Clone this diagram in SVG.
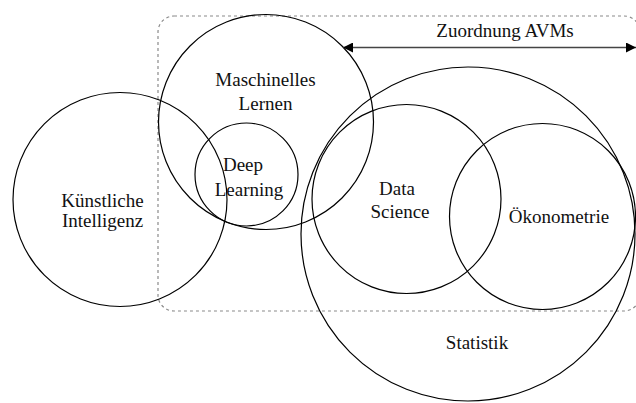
<svg xmlns="http://www.w3.org/2000/svg" width="636" height="403" viewBox="0 0 636 403">
  <style>
    .set { fill: none; stroke: #000; stroke-width: 1.2; }
    .lbl { font-size: 19px; fill: #111; text-anchor: middle; }
    .frame { fill: none; stroke: #8a8a8a; stroke-width: 1.2; stroke-dasharray: 3 3; }
    .dim { stroke: #444; stroke-width: 1.5; fill: none; }
  </style>
  <defs>
    <marker id="head" viewBox="0 0 10 10" refX="10" refY="5" markerWidth="10" markerHeight="10" markerUnits="userSpaceOnUse" orient="auto-start-reverse">
      <path d="M0,0 L10,5 L0,10 z" fill="#000"/>
    </marker>
  </defs>
  <rect width="636" height="403" fill="#fff"/>

  <!-- dashed scope frame -->
  <rect class="frame" x="158" y="16" width="482" height="295" rx="16" ry="16"/>

  <g font-family="'Liberation Serif', 'Times New Roman', serif">
    <g id="statistik">
      <circle class="set" cx="468" cy="234" r="167"/>
      <text class="lbl" x="477" y="349">Statistik</text>
    </g>
    <g id="ki">
      <circle class="set" cx="120" cy="199.5" r="107"/>
      <text class="lbl" x="102.5" y="207">Künstliche</text>
      <text class="lbl" x="102.5" y="226.5">Intelligenz</text>
    </g>
    <g id="ml">
      <circle class="set" cx="266" cy="122" r="107.5"/>
      <text class="lbl" x="265.5" y="86">Maschinelles</text>
      <text class="lbl" x="265.5" y="110">Lernen</text>
    </g>
    <g id="dl">
      <circle class="set" cx="246.5" cy="174.5" r="51.5"/>
      <text class="lbl" x="243" y="171">Deep</text>
      <text class="lbl" x="249" y="196">Learning</text>
    </g>
    <g id="ds">
      <circle class="set" cx="406.5" cy="199" r="94.5"/>
      <text class="lbl" x="397" y="195">Data</text>
      <text class="lbl" x="400" y="218">Science</text>
    </g>
    <g id="oekonometrie">
      <circle class="set" cx="542.5" cy="216.5" r="93"/>
      <text class="lbl" x="559" y="223">Ökonometrie</text>
    </g>

    <g id="connectors">
      <line class="dim" x1="343" y1="47.5" x2="636" y2="47.5" marker-start="url(#head)" marker-end="url(#head)"/>
      <text class="lbl" x="505" y="37">Zuordnung AVMs</text>
    </g>
  </g>
</svg>
